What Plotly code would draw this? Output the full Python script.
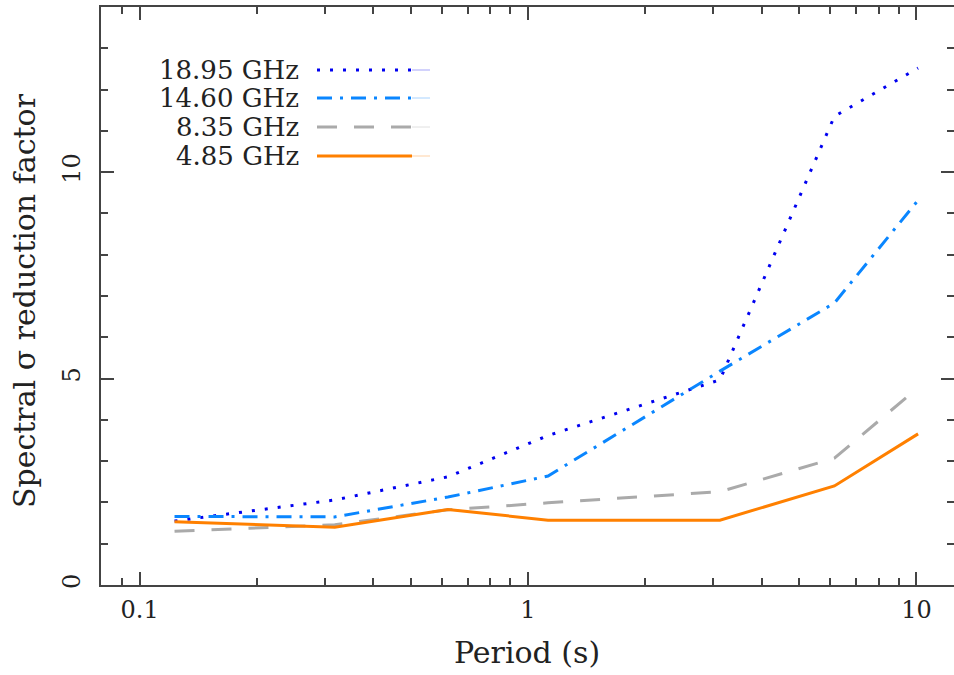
import plotly.graph_objects as go

period = [0.123, 0.318, 0.622, 1.126, 3.12, 6.15, 10.1]
f1895 = [1.55, 2.06, 2.62, 3.62, 4.97, 11.35, 12.52]
f1460 = [1.66, 1.65, 2.13, 2.64, 5.18, 6.83, 9.32]
f835 = [1.30, 1.46, 1.82, 1.99, 2.26, 3.07, 4.78]
f485 = [1.53, 1.40, 1.83, 1.57, 1.57, 2.40, 3.66]

labels = ["18.95 GHz", "14.60 GHz", "8.35 GHz", "4.85 GHz"]
series = [f1895, f1460, f835, f485]
colors = ["#0000f0", "#0a86ff", "#aaaaaa", "#ff8000"]
dashes = ["3px,10px", "15px,8px,3px,8px", "20px,17px", "solid"]

xticks = [0.1, 1, 10]
xtick_text = ["0.1", "1", "10"]
xminor = [0.08, 0.09, 0.2, 0.3, 0.4, 0.5, 0.6, 0.7, 0.8, 0.9,
          2, 3, 4, 5, 6, 7, 8, 9]
yticks = [0, 5, 10]

FONT = "DejaVu Serif"
TXT = "#222222"

fig = go.Figure()
for lab, ys, c, d in zip(labels, series, colors, dashes):
    fig.add_trace(go.Scatter(x=period, y=ys, mode="lines", name=lab,
                             line=dict(color=c, width=3, dash=d),
                             showlegend=False))

# plot area geometry (pixels)
L, R, T, B = 101, 954, 7, 585
W, H = R - L, B - T

def px(x):
    return (x - L) / W

def py(y):
    return (B - y) / H

rows = [70, 98, 127, 156]
for lab, c, d, ry in zip(labels, colors, dashes, rows):
    fig.add_annotation(x=px(301), y=py(ry), xref="paper", yref="paper",
                       text=lab, showarrow=False, xanchor="right", yanchor="middle",
                       font=dict(family=FONT, size=26, color=TXT))
    fig.add_shape(type="line", xref="paper", yref="paper",
                  x0=px(317), x1=px(412), y0=py(ry), y1=py(ry),
                  line=dict(color=c, width=3, dash=d))
    fig.add_shape(type="line", xref="paper", yref="paper",
                  x0=px(412), x1=px(430), y0=py(ry), y1=py(ry),
                  line=dict(color=c, width=1), opacity=0.35)

axis_common = dict(showgrid=False, zeroline=False, showline=True,
                   linecolor="#444444", linewidth=2, mirror="ticks",
                   ticks="inside", ticklen=13, tickwidth=1.5, tickcolor="#444444",
                   tickfont=dict(family=FONT, size=24, color=TXT))

fig.update_xaxes(type="log", range=[-1.0994, 1.0968],
                 tickmode="array", tickvals=xticks, ticktext=xtick_text,
                 minor=dict(tickmode="array", tickvals=xminor, ticks="inside",
                            ticklen=7, tickwidth=1.5, tickcolor="#444444"),
                 ticklabelstandoff=2,
                 **axis_common)
fig.update_yaxes(range=[0, 14], tickmode="array", tickvals=yticks,
                 tickangle=-90,
                 minor=dict(dtick=1, ticks="inside", ticklen=7, tickwidth=1.5,
                            tickcolor="#444444"),
                 ticklabelstandoff=9,
                 **axis_common)

# axis titles placed as text at their reference positions
fig.add_annotation(x=px(527), y=py(652), xref="paper", yref="paper",
                   text="Period (s)", showarrow=False,
                   xanchor="center", yanchor="middle",
                   font=dict(family=FONT, size=30, color=TXT))
fig.add_annotation(x=px(24), y=py(301), xref="paper", yref="paper",
                   text="Spectral σ reduction factor", showarrow=False,
                   textangle=-90, xanchor="center", yanchor="middle",
                   font=dict(family=FONT, size=30, color=TXT))

fig.update_layout(width=954, height=675,
                  margin=dict(l=L, r=954 - R, t=T, b=675 - B, autoexpand=False),
                  paper_bgcolor="white", plot_bgcolor="white",
                  showlegend=False)

fig.write_html("out.html", config={"displayModeBar": False},
               post_script="document.body.style.margin='0';"
                           "document.body.style.overflow='hidden';")
